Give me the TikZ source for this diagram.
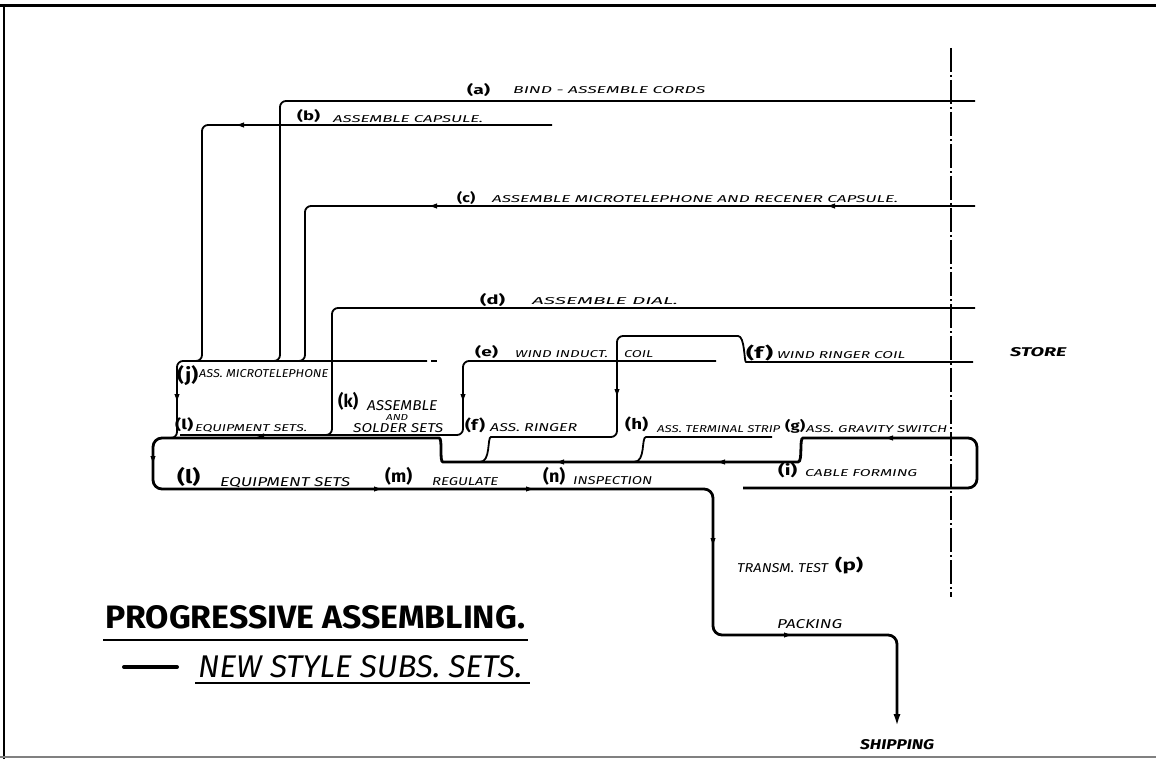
\documentclass[tikz,border=0pt]{standalone}
\usepackage{fontspec}
\usepackage{graphicx}
\setmainfont{Fira Sans}
\newfontfamily\labfont{Fira Sans}
\usetikzlibrary{arrows.meta}
\newcommand\lb[3]{\resizebox{#1pt}{#2pt}{\labfont\itshape #3}}
\newcommand\lbb[3]{\resizebox{#1pt}{#2pt}{\labfont\bfseries\itshape #3}}
\newcommand\tg[3]{\resizebox*{#1pt}{#2pt}{\labfont\bfseries #3}}
\newcommand\flowL[2]{\fill (#1,#2) -- ++(7,-2.6) -- ++(0,5.2) -- cycle;}
\newcommand\flowR[2]{\fill (#1,#2) -- ++(-7,-2.6) -- ++(0,5.2) -- cycle;}
\newcommand\flowD[2]{\fill (#1,#2) -- ++(-2.6,-7) -- ++(5.2,0) -- cycle;}
\tikzset{
  lab/.style={inner sep=0pt, anchor=base west},
  tag/.style={inner sep=0pt, anchor=south west},
  flow/.style={line width=1.8pt, rounded corners=6pt},
  mainflow/.style={line width=2.8pt, rounded corners=9pt},
  frame/.style={line width=2pt},
}
\begin{document}
\begin{tikzpicture}[x=1pt,y=-1pt]
\useasboundingbox (0,0) rectangle (1156,759);
% frame
\draw[frame, line width=2.6pt] (0,5.5) -- (1156,5.5);
\draw[frame] (4,5) -- (4,759);
\draw[frame, gray] (0,756.5) -- (1156,756.5);
% store boundary
\draw[line width=1.4pt, dash pattern=on 24pt off 3pt on 2pt off 3pt] (951,48) -- (951,597);
% supply lines
\draw[flow] (975,101) -- (280,101) -- (280,361) -- (270,361);
\draw[flow] (552,125) -- (202,125) -- (202,361) -- (192,361);
\draw[flow] (975,206) -- (305,206) -- (305,361) -- (295,361);
\draw[flow] (975,308) -- (332,308) -- (332,435) -- (322,435);
\draw[flow] (427,361) -- (177,361) -- (177,438) -- (165,438);
\draw[flow] (431,361) -- (437,361);
\draw[flow] (716,361) -- (463,361) -- (463,435) -- (180,435);
\draw[flow] (973,362) -- (752,362) .. controls (744,362) and (745,336) .. (732,336) -- (617,336) -- (617,437) -- (497,437) .. controls (487,437) and (491,462) .. (480,462);
\draw[flow] (772,437) -- (652,437) .. controls (641,437) and (646,462) .. (634,462);
% main loop
\draw[mainflow, -{Latex[length=13pt,width=7pt]}] (743,488) -- (977,488) -- (977,438) -- (812,438) .. controls (799,438) and (803,462) .. (789,462) -- (452,462) .. controls (439,462) and (443,438) .. (430,438) -- (153,438) -- (153,489) -- (713,489) -- (713,635) -- (897,635) -- (897,727);
% arrow marks
\flowL{237}{125}
\flowL{430}{206}
\flowL{828}{206}
\flowD{177}{401}
\flowD{463}{401}
\flowD{617}{396}
\flowL{257}{436}
\flowD{153}{463}
\flowR{381}{489}
\flowR{533}{489}
\flowL{557}{462}
\flowL{718}{462}
\flowL{886}{438}
\flowD{713}{545}
\flowR{791}{635}
% labels
\node[tag] (ta) at (467,97) {\tg{23}{13}{(a)}};
\node[lab] (la) at (513,94) {\lb{192}{7}{BIND - ASSEMBLE CORDS}};
\node[tag] (tb) at (297,123) {\tg{23}{13}{(b)}};
\node[lab] (lbx) at (333,123) {\lb{150}{7}{ASSEMBLE CAPSULE.}};
\node[tag] (tc) at (457,205) {\tg{18}{13}{(c)}};
\node[lab] (lc) at (492,203) {\lb{406}{7}{ASSEMBLE MICROTELEPHONE AND RECENER CAPSULE.}};
\node[tag] (td) at (480,307) {\tg{25}{13}{(d)}};
\node[lab] (ld) at (532,305) {\lb{146}{7}{ASSEMBLE DIAL.}};
\node[tag] (te) at (475,359) {\tg{23}{13}{(e)}};
\node[lab] (le) at (515,357) {\lb{93}{7}{WIND INDUCT.}};
\node[lab] (le2) at (624,357) {\lb{29}{7}{COIL}};
\node[tag] (tf) at (746,361) {\tg{27}{16}{(f)}};
\node[lab] (lf) at (777,358) {\lb{128}{7}{WIND RINGER COIL}};
\node[lab] (store) at (1010,356) {\lbb{56}{9}{STORE}};
\node[tag] (tj) at (177,386) {\tg{21}{20}{(j)}};
\node[lab] (lj) at (199,377) {\lb{129}{8}{ASS. MICROTELEPHONE}};
\node[tag] (tl) at (175,432) {\tg{18}{14}{(l)}};
\node[lab] (ll) at (195,431) {\lb{112}{7}{EQUIPMENT SETS.}};
\node[tag] (tk) at (338,411) {\tg{20}{18}{(k)}};
\node[lab] (lk1) at (367,410) {\lb{70}{10}{ASSEMBLE}};
\node[lab] (lk2) at (386,420) {\lb{22}{6}{AND}};
\node[lab] (lk3) at (353,432) {\lb{90}{9}{SOLDER SETS}};
\node[tag] (tf2) at (465,433) {\tg{20}{15}{(f)}};
\node[lab] (lf2) at (490,431) {\lb{87}{8}{ASS. RINGER}};
\node[tag] (th) at (625,432) {\tg{23}{15}{(h)}};
\node[lab] (lh) at (657,432) {\lb{123}{7}{ASS. TERMINAL STRIP}};
\node[tag] (tgx) at (785,434) {\tg{20}{14}{(g)}};
\node[lab] (lg) at (806,432) {\lb{141}{7}{ASS. GRAVITY SWITCH}};
\node[tag] (tl2) at (177,487) {\tg{23}{19}{(l)}};
\node[lab] (ll2) at (220,486) {\lb{130}{9}{EQUIPMENT SETS}};
\node[tag] (tm) at (385,486) {\tg{27}{18}{(m)}};
\node[lab] (lm) at (432,485) {\lb{66}{8}{REGULATE}};
\node[tag] (tn) at (543,486) {\tg{22}{18}{(n)}};
\node[lab] (ln) at (573,484) {\lb{79}{8}{INSPECTION}};
\node[tag] (ti) at (778,478) {\tg{19}{15}{(i)}};
\node[lab] (li) at (805,476) {\lb{112}{7}{CABLE FORMING}};
\node[lab] (lp) at (737,572) {\lb{91}{9}{TRANSM. TEST}};
\node[tag] (tp) at (835,574) {\tg{28}{17}{(p)}};
\node[lab] (lpack) at (777,628) {\lb{65}{9}{PACKING}};
\node[lab] (lship) at (860,749) {\lbb{74}{10}{SHIPPING}};
% title
\node[lab] (title) at (105,628) {\resizebox{420pt}{23pt}{\bfseries PROGRESSIVE ASSEMBLING.}};
\draw[line width=2.6pt] (103,640) -- (528,640);
\draw[line width=4pt, line cap=round] (124,667) -- (177,667);
\node[lab] (sub) at (198,677) {\resizebox{324pt}{22pt}{\itshape NEW STYLE SUBS. SETS.}};
\draw[line width=2.4pt] (195,683) -- (530,683);
\end{tikzpicture}
\end{document}
